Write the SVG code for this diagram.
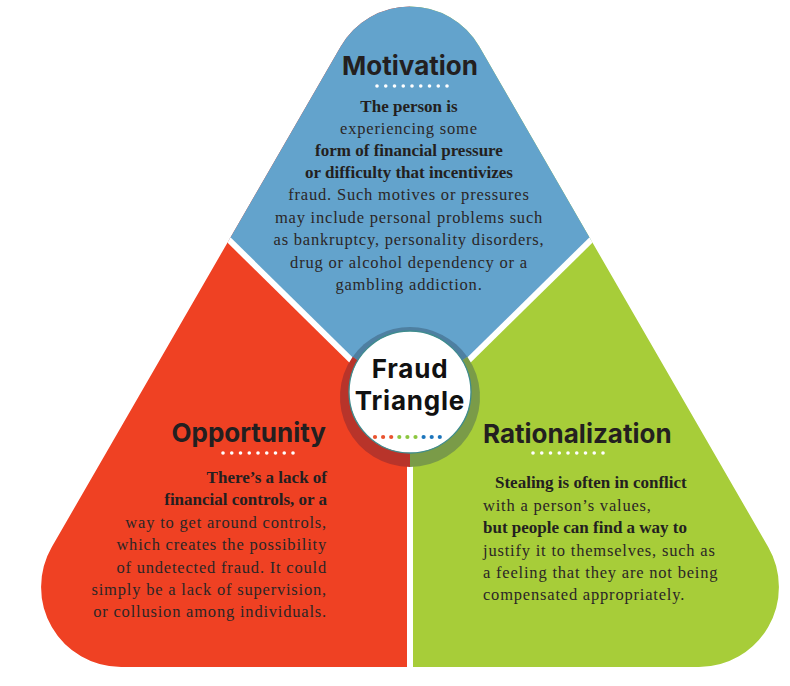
<svg xmlns="http://www.w3.org/2000/svg" width="790" height="686" viewBox="0 0 790 686">
  <style>
    .title { font-family: Inter, "Open Sans", "Liberation Sans", sans-serif; font-weight: 700; font-size: 26px; fill: #231F20; }
    .ctr { font-family: Inter, "Open Sans", "Liberation Sans", sans-serif; font-weight: 700; font-size: 26px; letter-spacing: 0.8px; fill: #111111; text-anchor: middle; }
    .b { font-family: "Liberation Serif", "Times New Roman", serif; font-weight: 700; font-size: 17px; fill: #231F20; }
    .l { font-family: "Liberation Serif", "Times New Roman", serif; font-weight: 400; font-size: 16.5px; letter-spacing: 0.8px; fill: #2B2626; }
    .mid { text-anchor: middle; }
    .end { text-anchor: end; }
    .wd { fill: #FFFFFF; }
    .div { stroke: #FFFFFF; stroke-width: 6; fill: none; }
  </style>
  <defs>
    <clipPath id="tri">
      <path d="M340.7,46.5 A80,80 0 0 1 479.3,46.5 L768.2,547 A80,80 0 0 1 698.9,667 L121.1,667 A80,80 0 0 1 51.8,547 Z"/>
    </clipPath>
  </defs>
  <rect width="790" height="686" fill="#FFFFFF"/>

  <g clip-path="url(#tri)">
    <g id="opportunity-bg"><rect x="0" y="0" width="410" height="686" fill="#EF4123"/></g>
    <g id="rationalization-bg"><rect x="410" y="0" width="380" height="686" fill="#A7CD39"/></g>
    <g id="motivation-bg"><polygon points="410,418 48,62 48,-100 772,-100 772,62" fill="#63A3CC"/></g>
    <g id="dividers">
      <line class="div" x1="410" y1="418" x2="48" y2="62"/>
      <line class="div" x1="410" y1="418" x2="772" y2="62"/>
      <line class="div" x1="410" y1="418" x2="410" y2="690"/>
    </g>
  </g>

  <g id="motivation">
    <text class="title mid" x="410" y="75">Motivation</text>
    <g class="wd">
      <circle cx="377" cy="86" r="1.8"/><circle cx="385.75" cy="86" r="1.8"/><circle cx="394.5" cy="86" r="1.8"/><circle cx="403.25" cy="86" r="1.8"/><circle cx="412" cy="86" r="1.8"/><circle cx="420.75" cy="86" r="1.8"/><circle cx="429.5" cy="86" r="1.8"/><circle cx="438.25" cy="86" r="1.8"/><circle cx="447" cy="86" r="1.8"/>
    </g>
    <text class="b mid" x="409" y="112">The person is</text>
    <text class="l mid" x="409" y="134">experiencing some</text>
    <text class="b mid" x="409" y="156">form of financial pressure</text>
    <text class="b mid" x="409" y="178">or difficulty that incentivizes</text>
    <text class="l mid" x="409" y="200">fraud. Such motives or pressures</text>
    <text class="l mid" x="409" y="223">may include personal problems such</text>
    <text class="l mid" x="409" y="245">as bankruptcy, personality disorders,</text>
    <text class="l mid" x="409" y="268">drug or alcohol dependency or a</text>
    <text class="l mid" x="409" y="290">gambling addiction.</text>
  </g>

  <g id="opportunity">
    <text class="title end" x="326" y="442">Opportunity</text>
    <g class="wd">
      <circle cx="223" cy="453" r="1.8"/><circle cx="231.75" cy="453" r="1.8"/><circle cx="240.5" cy="453" r="1.8"/><circle cx="249.25" cy="453" r="1.8"/><circle cx="258" cy="453" r="1.8"/><circle cx="266.75" cy="453" r="1.8"/><circle cx="275.5" cy="453" r="1.8"/><circle cx="284.25" cy="453" r="1.8"/><circle cx="293" cy="453" r="1.8"/>
    </g>
    <text class="b end" x="327" y="483">There’s a lack of</text>
    <text class="b end" x="327" y="505">financial controls, or a</text>
    <text class="l end" x="327" y="528">way to get around controls,</text>
    <text class="l end" x="327" y="550">which creates the possibility</text>
    <text class="l end" x="327" y="573">of undetected fraud. It could</text>
    <text class="l end" x="327" y="595">simply be a lack of supervision,</text>
    <text class="l end" x="327" y="617">or collusion among individuals.</text>
  </g>

  <g id="rationalization">
    <text class="title" x="483" y="443">Rationalization</text>
    <g class="wd">
      <circle cx="533" cy="453" r="1.8"/><circle cx="541.75" cy="453" r="1.8"/><circle cx="550.5" cy="453" r="1.8"/><circle cx="559.25" cy="453" r="1.8"/><circle cx="568" cy="453" r="1.8"/><circle cx="576.75" cy="453" r="1.8"/><circle cx="585.5" cy="453" r="1.8"/><circle cx="594.25" cy="453" r="1.8"/><circle cx="603" cy="453" r="1.8"/>
    </g>
    <text class="b" x="495" y="488">Stealing is often in conflict</text>
    <text class="l" x="483" y="511">with a person’s values,</text>
    <text class="b" x="483" y="533">but people can find a way to</text>
    <text class="l" x="483" y="556">justify it to themselves, such as</text>
    <text class="l" x="483" y="578">a feeling that they are not being</text>
    <text class="l" x="483" y="600">compensated appropriately.</text>
  </g>

  <g id="fraud-triangle">
    <path d="M410,397 L352.7,356.8 A70,70 0 0 1 467.3,356.8 Z" fill="#4E7FA1"/>
    <path d="M410,397 L467.3,356.8 A70,70 0 0 1 410,467 Z" fill="#7A9B48"/>
    <path d="M410,397 L410,467 A70,70 0 0 1 352.7,356.8 Z" fill="#B8342A"/>
    <circle cx="410" cy="392" r="61" fill="#FFFFFF" stroke="#3F8C8E" stroke-width="1.3"/>
    <text class="ctr" x="410" y="378">Fraud</text>
    <text class="ctr" x="410" y="410">Triangle</text>
    <circle cx="375" cy="437" r="2.1" fill="#E9532F"/><circle cx="383.1" cy="437" r="2.1" fill="#E9532F"/><circle cx="391.2" cy="437" r="2.1" fill="#E9532F"/>
    <circle cx="399.3" cy="437" r="2.1" fill="#8CC63F"/><circle cx="407.4" cy="437" r="2.1" fill="#8CC63F"/><circle cx="415.5" cy="437" r="2.1" fill="#8CC63F"/>
    <circle cx="423.6" cy="437" r="2.1" fill="#1C75BC"/><circle cx="431.7" cy="437" r="2.1" fill="#1C75BC"/><circle cx="439.8" cy="437" r="2.1" fill="#1C75BC"/>
  </g>
</svg>
